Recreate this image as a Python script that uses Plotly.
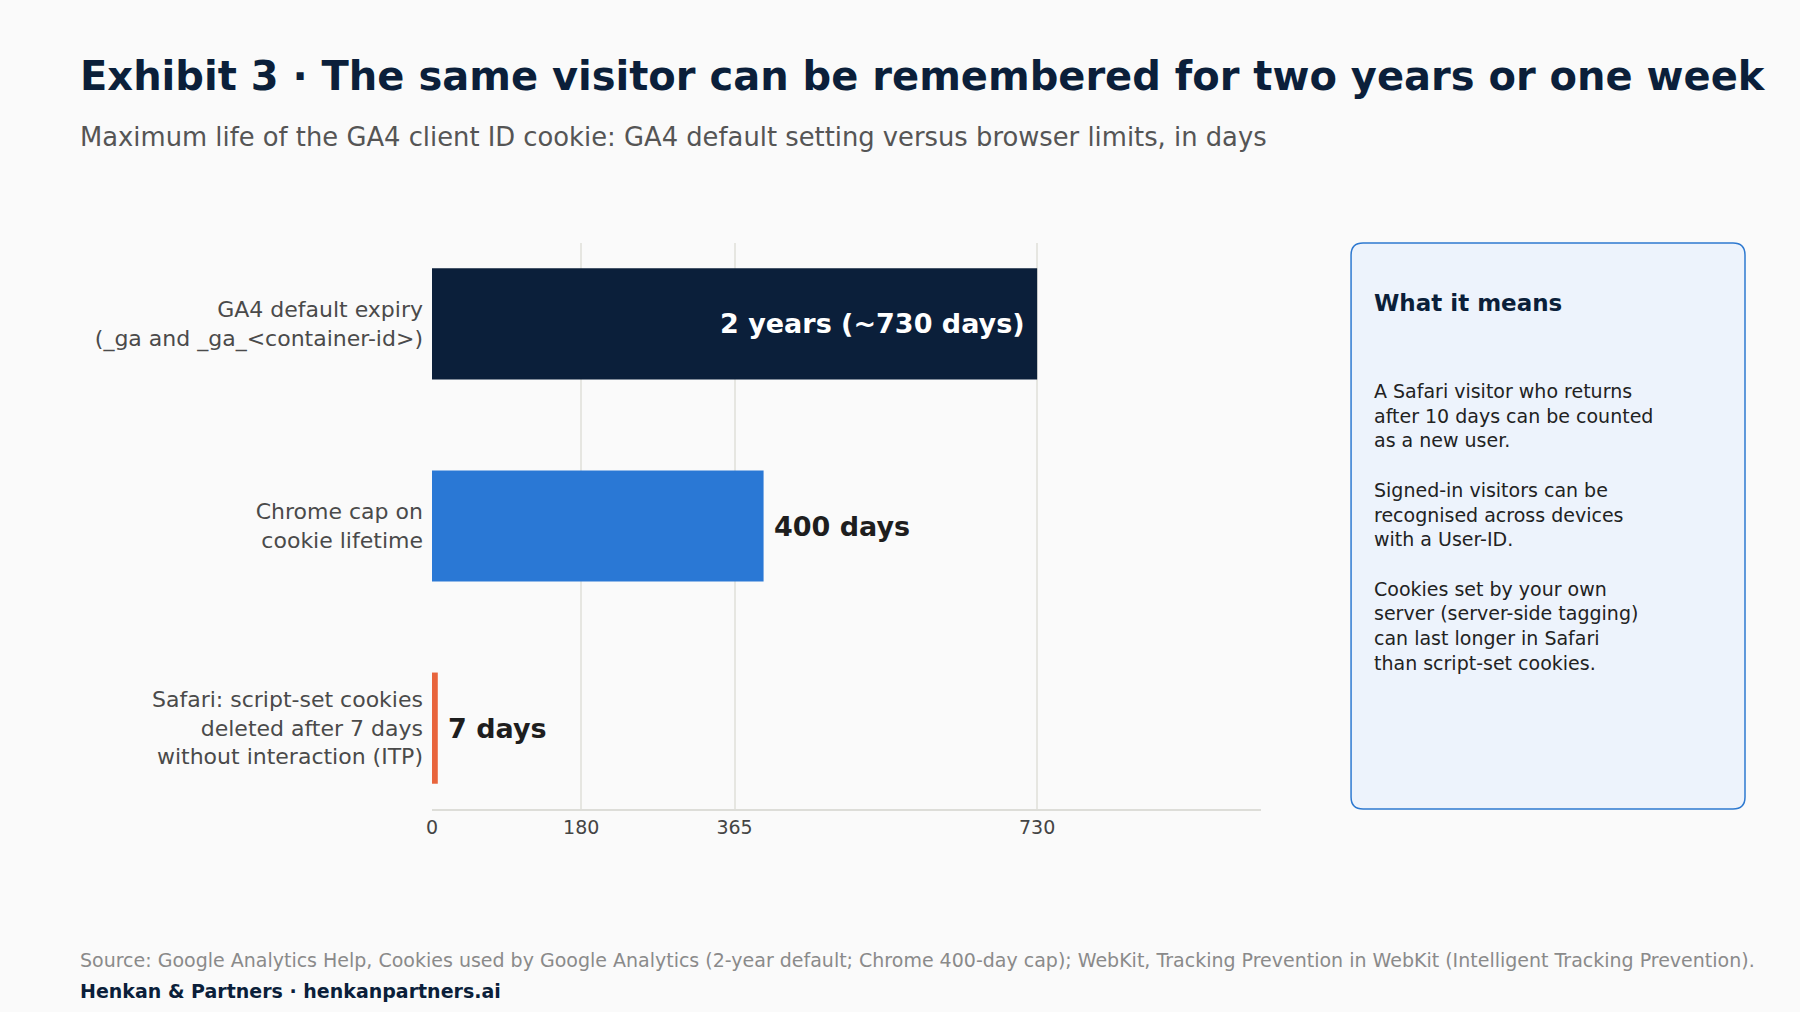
import plotly.graph_objects as go

# data
categories = [
    "GA4 default expiry<br>(_ga and _ga_<container-id>)",
    "Chrome cap on<br>cookie lifetime",
    "Safari: script-set cookies<br>deleted after 7 days<br>without interaction (ITP)",
]
days = [730, 400, 7]
bar_labels = ["2 years (~730 days)", "400 days", "7 days"]
tick_values = [0, 180, 365, 730]

title = "Exhibit 3 · The same visitor can be remembered for two years or one week"
subtitle = ("Maximum life of the GA4 client ID cookie: GA4 default setting versus "
            "browser limits, in days")
box_heading = "What it means"
box_lines = [
    "A Safari visitor who returns",
    "after 10 days can be counted",
    "as a new user.",
    "",
    "Signed-in visitors can be",
    "recognised across devices",
    "with a User-ID.",
    "",
    "Cookies set by your own",
    "server (server-side tagging)",
    "can last longer in Safari",
    "than script-set cookies.",
]
source = ("Source: Google Analytics Help, Cookies used by Google Analytics (2-year default; "
          "Chrome 400-day cap); WebKit, Tracking Prevention in WebKit (Intelligent Tracking Prevention).")
footer = "Henkan & Partners · henkanpartners.ai"

NAVY = "#0B1F3A"
BLUE = "#2A78D5"
ORANGE = "#E8643C"
BG = "#FAFAFA"
FONT = "DejaVu Sans"
bar_colors = [NAVY, BLUE, ORANGE]

fig = go.Figure(
    go.Bar(
        x=days,
        y=categories,
        orientation="h",
        width=0.55,
        marker=dict(color=bar_colors, line=dict(width=0)),
        hoverinfo="skip",
    )
)

# value labels: first one inside the bar end, the rest just past the bar
for i, (v, cat, lab) in enumerate(zip(days, categories, bar_labels)):
    inside = i == 0
    fig.add_annotation(
        x=v, y=cat, xref="x", yref="y",
        text=f"<b>{lab}</b>",
        showarrow=False,
        xanchor="right" if inside else "left",
        xshift=-10 if inside else 8,
        font=dict(family=FONT, size=27, color="white" if inside else "#1E1E1E"),
    )

# rounded side box (paper coords)
x0, x1, y0, y1 = 0.7634, 1.0, 0.0, 1.0
rx, ry = 12 / 1665, 12 / 566
path = (
    f"M {x0 + rx},{y1} L {x1 - rx},{y1} Q {x1},{y1} {x1},{y1 - ry} "
    f"L {x1},{y0 + ry} Q {x1},{y0} {x1 - rx},{y0} "
    f"L {x0 + rx},{y0} Q {x0},{y0} {x0},{y0 + ry} "
    f"L {x0},{y1 - ry} Q {x0},{y1} {x0 + rx},{y1} Z"
)
fig.add_shape(type="path", path=path, xref="paper", yref="paper",
              fillcolor="#EDF3FC", line=dict(color="#2E79D0", width=1.5), layer="below")

fig.add_annotation(
    x=0.7772, y=0.894, xref="paper", yref="paper", xanchor="left", yanchor="middle",
    text=f"<b>{box_heading}</b>", showarrow=False, align="left", xshift=-2,
    font=dict(family=FONT, size=23, color=NAVY),
)
fig.add_annotation(
    x=0.7772, y=0.762, xref="paper", yref="paper", xanchor="left", yanchor="top",
    text="<br>".join(box_lines), showarrow=False, align="left", xshift=-2,
    font=dict(family=FONT, size=19, color="#222222"),
)

# titles and footer
fig.add_annotation(x=0, y=1.295, xref="paper", yref="paper", xanchor="left", yanchor="middle",
                   text=f"<b>{title}</b>", showarrow=False, xshift=-2,
                   font=dict(family=FONT, size=40, color=NAVY))
fig.add_annotation(x=0, y=1.187, xref="paper", yref="paper", xanchor="left", yanchor="middle",
                   text=subtitle, showarrow=False, xshift=-2,
                   font=dict(family=FONT, size=25.8, color="#555555"))
fig.add_annotation(x=0, y=-0.267, xref="paper", yref="paper", xanchor="left", yanchor="middle",
                   text=source, showarrow=False, xshift=-2,
                   font=dict(family=FONT, size=19, color="#8A8A8A"))
fig.add_annotation(x=0, y=-0.3216, xref="paper", yref="paper", xanchor="left", yanchor="middle",
                   text=f"<b>{footer}</b>", showarrow=False, xshift=-2,
                   font=dict(family=FONT, size=19, color=NAVY))

fig.update_layout(
    width=1800,
    height=1012,
    margin=dict(l=80, r=55, t=243, b=203),
    paper_bgcolor=BG,
    plot_bgcolor=BG,
    showlegend=False,
    font=dict(family=FONT, color="#444444"),
    xaxis=dict(
        domain=[0.2114, 0.7093],
        range=[0, 1000],
        tickvals=tick_values,
        showgrid=True,
        gridcolor="#E6E6E1",
        gridwidth=1.5,
        zeroline=False,
        showline=True,
        linecolor="#DDDDD8",
        linewidth=2,
        ticks="",
        tickfont=dict(family=FONT, size=19, color="#444444"),
        fixedrange=True,
    ),
    yaxis=dict(
        type="category",
        categoryorder="array",
        categoryarray=categories,
        range=[2.4, -0.4],
        showgrid=False,
        zeroline=False,
        showline=False,
        ticks="",
        ticklabelstandoff=8,
        tickfont=dict(family=FONT, size=22, color="#4A4A4A"),
        fixedrange=True,
    ),
)

fig.write_html(
    "out.html",
    config={"displayModeBar": False},
    post_script="document.body.style.margin='0';document.body.style.background='#FAFAFA';",
)
